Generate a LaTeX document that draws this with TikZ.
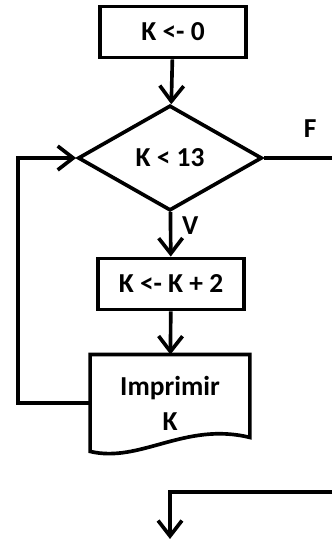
\documentclass[tikz,border=0pt]{standalone}
\usepackage{fontspec}
\setmainfont{Carlito}
\usetikzlibrary{arrows.meta,shapes.geometric,calc}

\begin{document}
\begin{tikzpicture}[x=0.025cm, y=-0.025cm, line width=2.6pt,
  >={Straight Barb[length=11pt, width=17pt]},
  every node/.style={font=\fontsize{19.5}{25}\selectfont\bfseries, align=center},
  proc/.style={draw, rectangle, minimum width=3.65cm, minimum height=1.28cm},
  cond/.style={draw, diamond, minimum width=4.6cm, minimum height=2.63cm, inner sep=0pt},
  lbl/.style={inner sep=1pt}]
  \useasboundingbox (0,0) rectangle (332,539);
  \node[proc] (ini) at (173,32) {K <- 0};
  \node[cond] (k13) at (170,158) {K < 13};
  \node[proc] (inc) at (171,284) {K <- K + 2};
  \node[minimum width=3.9cm, minimum height=2.33cm] (imp) at (170,403) {Imprimir\\K};
  % document shape with wavy bottom
  \draw (imp.north west) -- (imp.south west)
    .. controls ($(imp.south)+(-30,12)$) and ($(imp.south)+(15,-30)$) .. ($(imp.south east)+(0,-14)$)
    -- (imp.north east) -- cycle;
  \coordinate (loop) at (18,403);
  \coordinate (fout) at (332,158);
  \coordinate (ret) at (332,492);
  \coordinate (fin) at (170,539);
  \draw[->] (ini) -- (k13);
  \draw[->] (k13) -- node[lbl, pos=0.3, right=6pt] {V} (inc);
  \draw[->] (inc) -- (imp);
  \draw[->] (imp.west) -- (loop) |- (k13.west);
  \draw (k13.east) -- node[lbl, pos=0.68, above=12pt] {F} (fout);
  \draw[->] (ret) -| (fin);
\end{tikzpicture}
\end{document}
